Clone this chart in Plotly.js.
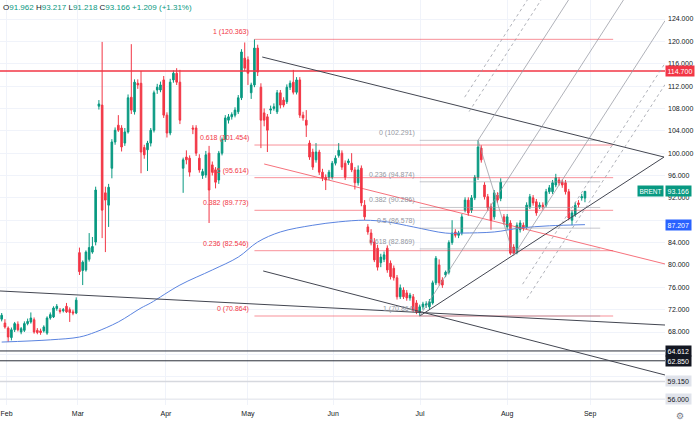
<!DOCTYPE html>
<html><head><meta charset="utf-8">
<script src="https://cdn.plot.ly/plotly-3.0.1.min.js"></script>
<style>html,body{margin:0;padding:0;background:#fff}#chart{width:696px;height:434px}</style>
</head><body><div id="chart"></div>
<script>
// ---- daily candles (Feb .. end of Aug) ----
const open = [
 70.3,69.6,68.7,67.0,68.4,69.4,68.0,68.3,69.5,69.8,70.2,68.3,68.2,68.2,67.8,70.5,70.7,72.2,71.9,71.8,72.6,72.0,71.6,71.4,
 82.2,79.0,79.1,81.0,82.3,84.1,108.4,108.6,92.9,90.7,97.3,102.0,105.0,104.5,101.8,103.8,110.0,107.4,112.5,112.5,101.0,100.6,101.8,104.1,111.3,111.3,113.1,106.8,103.6,113.1,114.3,112.7,
 97.3,99.3,99.1,104.5,104.5,99.1,96.0,96.1,100.0,97.9,97.0,95.2,100.0,102.4,105.9,106.5,106.8,107.4,109.9,117.0,116.7,110.8,112.2,118.8,
 111.8,107.2,106.5,107.7,108.0,107.4,110.8,109.5,109.2,111.8,112.7,110.9,113.1,106.8,105.9,101.8,100.2,98.8,100.2,96.6,
 95.7,95.7,95.7,98.2,99.6,100.0,98.2,98.3,98.2,97.0,94.7,97.3,90.7,86.8,85.7,84.1,83.0,80.4,81.0,83.0,
 80.3,79.4,77.7,74.3,75.5,75.0,74.1,74.3,73.2,71.6,72.5,72.8,72.5,73.2,76.8,80.0,
 77.3,78.2,78.7,84.0,85.9,85.3,85.7,89.8,91.6,89.8,92.0,95.7,100.9,94.3,92.2,90.4,88.6,92.5,91.9,88.6,
 86.8,87.5,83.2,82.3,86.3,87.1,86.8,90.4,92.0,91.3,90.4,90.7,90.7,93.1,93.1,94.3,95.2,94.8,94.7,93.1,
 88.0,89.0,91.1,92.0,91.962];
const high = [
 71.4,70.3,69.0,68.8,69.8,69.9,68.9,69.9,70.4,71.5,70.6,68.7,68.6,69.2,70.8,71.5,72.6,73.0,72.3,72.3,73.2,72.4,72.0,74.2,
 83.1,80.8,82.6,85.7,85.0,94.0,109.5,119.9,94.0,94.5,102.5,104.6,106.8,105.0,104.5,110.5,119.5,113.2,113.2,114.7,101.5,102.2,104.5,111.2,112.4,112.8,113.8,107.3,113.3,114.8,115.2,114.9,
 99.2,100.5,99.6,105.0,105.0,99.8,97.2,100.4,101.3,98.5,97.5,100.4,102.8,106.8,107.0,107.3,108.2,110.4,118.6,119.8,117.3,112.6,120.363,119.4,
 112.5,108.0,107.0,108.5,108.9,111.3,111.3,110.0,112.3,113.0,114.9,113.6,113.6,107.4,107.7,102.3,100.8,101.8,100.6,97.2,
 96.2,97.0,98.6,99.6,101.8,100.5,98.7,99.0,100.0,97.5,97.8,97.8,91.6,87.3,86.4,84.8,83.6,82.0,82.4,83.5,
 80.8,79.9,78.2,76.5,76.0,75.5,75.0,74.8,73.7,72.9,73.4,73.5,73.9,77.2,81.6,81.0,
 77.8,79.0,84.4,88.0,86.4,86.1,89.1,92.1,92.1,92.5,96.1,102.291,101.4,94.8,92.7,91.0,93.4,93.0,95.5,89.1,
 89.1,88.0,83.7,87.6,88.0,87.6,91.2,92.7,92.5,91.8,91.2,91.2,93.6,94.3,95.2,96.3,95.7,95.3,95.2,93.6,
 89.8,91.2,91.6,92.7,93.217];
const low = [
 69.9,68.6,66.2,66.5,68.0,68.1,67.6,68.0,69.2,69.5,67.7,67.6,67.5,67.9,67.5,70.2,70.5,71.8,71.3,71.5,71.4,69.8,71.0,71.2,
 78.2,76.4,78.8,80.6,82.0,83.5,107.8,84.8,82.3,86.8,95.5,101.5,103.8,100.3,101.3,103.5,107.0,106.9,111.5,96.4,99.0,96.8,101.2,103.7,110.6,110.9,106.3,102.8,103.2,112.6,112.2,105.2,
 92.9,98.0,95.8,103.4,99.5,96.5,95.4,95.6,87.5,96.0,93.7,94.5,99.6,102.0,105.3,106.0,106.4,107.0,109.5,114.7,112.2,109.7,111.8,113.8,
 100.9,104.8,100.2,107.0,107.6,107.0,108.0,108.2,108.8,111.3,110.5,110.5,106.3,105.8,102.9,98.8,97.0,98.3,96.1,95.0,
 93.4,95.2,95.3,97.8,99.2,97.0,95.2,97.9,96.6,93.5,94.2,90.5,88.0,85.4,83.5,80.5,79.0,79.6,80.5,78.6,
 77.4,77.2,73.8,73.9,73.9,73.6,73.6,71.5,71.2,70.864,72.0,72.3,72.1,72.9,76.4,76.3,
 75.9,77.8,78.3,83.6,84.9,84.8,85.3,89.4,88.8,89.3,91.6,95.2,98.3,91.7,89.7,86.3,88.1,91.1,91.4,87.2,
 86.3,81.8,81.7,81.9,85.8,86.1,86.4,90.0,90.6,88.8,90.0,89.9,90.3,92.7,92.7,93.9,94.2,93.8,92.6,88.0,
 87.1,88.6,90.3,91.5,91.218];
const close = [
 71.0,68.9,67.1,68.4,69.5,68.4,68.6,69.5,69.9,70.5,68.0,67.9,67.9,68.9,70.5,71.1,72.3,72.6,71.7,72.0,71.6,71.5,71.4,73.7,
 78.8,80.5,82.3,83.1,83.3,93.4,108.8,89.8,91.6,93.9,102.0,104.1,104.1,101.1,103.8,109.9,107.7,112.7,112.2,100.2,99.7,101.8,104.1,110.8,111.8,112.2,106.8,103.6,112.7,114.3,112.7,105.9,
 98.8,98.8,96.6,104.3,100.0,97.0,96.7,99.7,93.4,96.6,94.8,100.0,102.4,106.3,106.5,106.9,107.7,109.9,118.1,115.2,114.3,112.2,118.8,114.5,
 105.9,105.9,104.1,107.9,108.3,110.8,108.6,108.6,111.8,112.5,110.9,113.1,106.8,106.3,105.0,99.3,97.5,100.2,96.6,95.6,
 95.2,96.6,98.2,99.1,100.5,97.5,95.7,98.6,97.0,94.7,97.0,91.1,88.6,85.9,84.0,80.9,79.6,81.4,81.8,79.1,
 77.9,77.7,74.3,75.9,74.3,74.1,74.6,71.9,71.6,72.5,73.0,73.0,73.4,76.8,81.2,76.8,
 76.4,78.7,84.0,85.7,85.3,85.7,88.6,91.6,89.3,92.0,95.7,101.1,98.8,92.2,90.2,88.0,92.9,91.6,94.8,87.7,
 88.6,82.1,82.1,87.1,87.5,86.6,90.7,92.2,91.1,89.3,90.7,90.4,93.1,93.8,94.7,95.6,94.7,94.3,93.1,88.4,
 89.3,90.7,90.8,92.2,93.166];

// month tick labels and the bar they sit on
const monthLabels = ['Feb','Mar','Apr','May','Jun','Jul','Aug','Sep'];
const monthBars = [1.5, 23.5, 50.7, 76, 102.3, 129.1, 156, 181.6];

// price-axis ticks (those hidden behind level boxes in the reference are left blank)
const priceTicks = [56,60,64,68,72,76,80,84,88,92,96,100,104,108,112,116,120,124];
const coveredTicks = [60, 64, 88];

// moving average read at some bars
const maBars =   [0, 15, 24, 29, 36, 43, 46, 55, 65, 73, 79, 86, 96, 104, 112, 119, 127, 137, 142, 152, 160, 169, 180];
const maValues = [66.2,66.6,67.1,68.0,69.8,72.3,73.2,76.4,79.1,81.4,84.1,85.9,87.1,87.7,88.0,87.7,86.8,85.7,85.7,85.9,86.6,87.0,87.207];

// horizontal price levels
const hLevels = [114.7, 64.612, 62.85, 59.15, 56.0];

// fib retracement (red) from May high to July low
const fibRedLevels = ['1','0.618','0.5','0.382','0.236','0'];
const fibRedPrices = [120.363, 101.454, 95.614, 89.773, 82.546, 70.864];
const fibRedSpan = [78, 188.7];
// fib retracement (grey) July low to July high
const fibGreyLevels = ['0','0.236','0.382','0.5','0.618','1'];
const fibGreyPrices = [102.291, 94.874, 90.286, 86.578, 82.869, 70.864];
const fibGreySpan = [129, 184.7];

// trend lines [bar0, price0, bar1, price1]
const trendDark = [
  [80.4, 117.2, 204.4, 99.3],
  [129, 70.864, 204.4, 99.3],
  [-0.52, 75.34, 204.7, 69.25],
  [80.7, 78.92, 204.7, 60.31]
];
const trendRed = [81.0, 98.06, 204.7, 80.17];

// pitchfork anchors [bar, price]
const pfA = [129, 70.864], pfB = [147, 102.291], pfC = [158, 81.7];
const pfDotted = [1.5, 1.75];

const lastClose = 93.166, maLast = 87.207;
const change = '+1.209 (+1.31%)';

// ---------------- drawing ----------------
const xMin = -0.52, xMax = 204.7, yMin = 54.94, yMax = 127.40;
const FONT = 'Liberation Sans, Arial, sans-serif';
const bars = open.map((_, i) => i);

const traces = [
  {type:'candlestick', x:bars, open:open, high:high, low:low, close:close,
   increasing:{line:{color:'#089981', width:1}, fillcolor:'#089981'},
   decreasing:{line:{color:'#f23645', width:1}, fillcolor:'#f23645'},
   whiskerwidth:0, hoverinfo:'skip', showlegend:false},
  {type:'scatter', mode:'lines', x:maBars, y:maValues, line:{color:'#5b84e0', width:1, shape:'spline', smoothing:1},
   hoverinfo:'skip', showlegend:false}
];

const shapes = [];
const hStyles = [
  {color:'#f23645', width:1.5},
  {color:'#2a2e39', width:1},
  {color:'#2a2e39', width:1},
  {color:'#d6d8de', width:1.5},
  {color:'#e3e5ea', width:1}
];
hLevels.forEach((p, k) => shapes.push({type:'line', xref:'paper', x0:0, x1:1, yref:'y', y0:p, y1:p, line:hStyles[k]}));

fibRedPrices.forEach(p => shapes.push({type:'line', xref:'x', yref:'y', x0:fibRedSpan[0], x1:fibRedSpan[1], y0:p, y1:p,
  line:{color:'rgba(242,54,69,0.55)', width:1}}));
fibGreyPrices.forEach(p => shapes.push({type:'line', xref:'x', yref:'y', x0:fibGreySpan[0], x1:fibGreySpan[1], y0:p, y1:p,
  line:{color:'rgba(149,152,161,0.55)', width:1}}));

trendDark.forEach(t => shapes.push({type:'line', xref:'x', yref:'y', x0:t[0], y0:t[1], x1:t[2], y1:t[3],
  line:{color:'#434651', width:1}}));
shapes.push({type:'line', xref:'x', yref:'y', x0:trendRed[0], y0:trendRed[1], x1:trendRed[2], y1:trendRed[3],
  line:{color:'rgba(242,54,69,0.7)', width:1}});

// pitchfork geometry from its anchors
const M = [(pfB[0]+pfC[0])/2, (pfB[1]+pfC[1])/2];
const d = [M[0]-pfA[0], M[1]-pfA[1]];
function ray(P){
  const tTop = (yMax - P[1]) / d[1];
  const tRight = (xMax - P[0]) / d[0];
  const t = Math.min(tTop, tRight);
  return [P[0] + t*d[0], P[1] + t*d[1]];
}
function pfLine(P, dash){
  const E = ray(P);
  shapes.push({type:'line', xref:'x', yref:'y', x0:P[0], y0:P[1], x1:E[0], y1:E[1],
    line:{color:'rgba(149,152,161,0.75)', width:1, dash:dash}});
}
pfLine(pfA, 'solid');
pfLine(pfB, 'solid');
pfLine(pfC, 'solid');
shapes.push({type:'line', xref:'x', yref:'y', x0:pfB[0], y0:pfB[1], x1:pfC[0], y1:pfC[1],
  line:{color:'rgba(149,152,161,0.75)', width:1}});
pfDotted.forEach(L => {
  pfLine([M[0] + L*(pfB[0]-M[0]), M[1] + L*(pfB[1]-M[1])], 'dot');
  pfLine([M[0] - L*(pfB[0]-M[0]), M[1] - L*(pfB[1]-M[1])], 'dot');
});

const annotations = [];
fibRedPrices.forEach((p, k) => annotations.push({xref:'x', yref:'y', x:fibRedSpan[0], y:p, xanchor:'right', yanchor:'middle',
  xshift:-3, yshift:7, showarrow:false, text:fibRedLevels[k] + ' (' + p.toFixed(3) + ')',
  font:{size:7, color:'#f23645', family:FONT}}));
fibGreyPrices.forEach((p, k) => annotations.push({xref:'x', yref:'y', x:fibGreySpan[0], y:p, xanchor:'right', yanchor:'middle',
  xshift:-3, yshift:7, showarrow:false, text:fibGreyLevels[k] + ' (' + p.toFixed(3) + ')',
  font:{size:7, color:'#9598a1', family:FONT}}));

function axisBox(val, bg, fg){
  annotations.push({xref:'paper', yref:'y', x:1, y:val, xanchor:'left', yanchor:'middle', xshift:0, showarrow:false,
    text:val.toFixed(3), bgcolor:bg, borderpad:1.5, font:{size:7, color:fg, family:FONT}});
}
axisBox(hLevels[0], '#f23645', '#ffffff');
axisBox(lastClose, '#089981', '#ffffff');
axisBox(maLast, '#2962ff', '#ffffff');
axisBox(hLevels[1], '#131722', '#ffffff');
axisBox(hLevels[2], '#131722', '#ffffff');
axisBox(hLevels[3], '#e0e3eb', '#131722');
axisBox(hLevels[4], '#e0e3eb', '#131722');
annotations.push({xref:'paper', yref:'y', x:1, y:lastClose, xanchor:'right', yanchor:'middle', xshift:-1, showarrow:false,
  text:'BRENT', bgcolor:'#089981', borderpad:1.5, font:{size:6.5, color:'#ffffff', family:FONT}});

const o = open[open.length-1], h = high[high.length-1], l = low[low.length-1], c = close[close.length-1];
const g = '#089981';
annotations.push({xref:'paper', yref:'paper', x:0, y:1, xanchor:'left', yanchor:'top', xshift:1, yshift:-1, showarrow:false,
  text:'<span style="color:#131722">O</span><span style="color:'+g+'">'+o.toFixed(3)+'</span> '+
       '<span style="color:#131722">H</span><span style="color:'+g+'">'+h.toFixed(3)+'</span> '+
       '<span style="color:#131722">L</span><span style="color:'+g+'">'+l.toFixed(3)+'</span> '+
       '<span style="color:#131722">C</span><span style="color:'+g+'">'+c.toFixed(3)+' '+change+'</span>',
  font:{size:8, family:FONT}});
annotations.push({xref:'paper', yref:'paper', x:1, y:0, xanchor:'left', yanchor:'top', xshift:9, yshift:-4, showarrow:false,
  text:'⚙', font:{size:9, color:'#787b86', family:'DejaVu Sans'}});

const layout = {
  width:696, height:434,
  margin:{l:0, r:31, t:0, b:29},
  paper_bgcolor:'#ffffff', plot_bgcolor:'#ffffff',
  showlegend:false,
  xaxis:{range:[xMin, xMax], tickvals:monthBars, ticktext:monthLabels, showgrid:true, gridcolor:'#f0f3fa',
    ticks:'', zeroline:false, showline:false, rangeslider:{visible:false}, ticklabelstandoff:3,
    ticklabeloverflow:'allow',
    tickfont:{size:7, color:'#131722', family:FONT}},
  yaxis:{side:'right', range:[yMin, yMax], tickvals:priceTicks,
    ticktext:priceTicks.map(v => coveredTicks.includes(v) ? '' : v.toFixed(3)),
    showgrid:true, gridcolor:'#f0f3fa',
    ticks:'', zeroline:false, showline:false, ticklabelstandoff:2,
    tickfont:{size:7, color:'#131722', family:FONT}},
  shapes:shapes,
  annotations:annotations
};
Plotly.newPlot('chart', traces, layout, {staticPlot:true, displayModeBar:false});
</script>
</body></html>
